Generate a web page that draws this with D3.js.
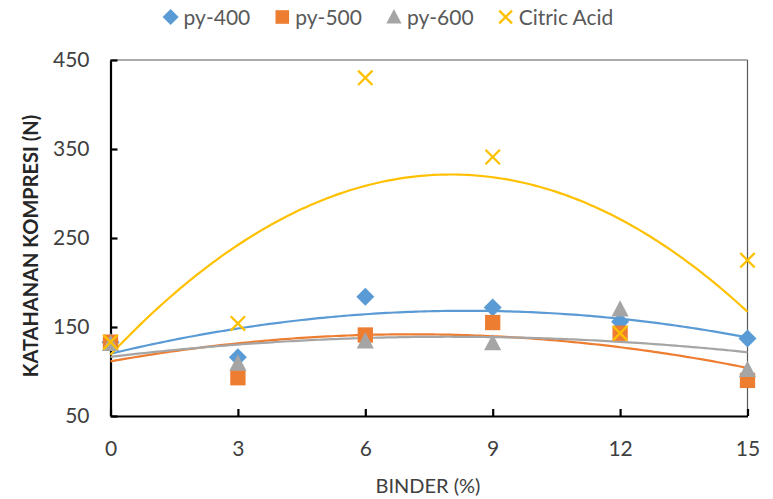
<!DOCTYPE html>
<html>
<head>
<meta charset="utf-8">
<script src="https://cdn.jsdelivr.net/npm/d3@7"></script>
<style>
  body { margin: 0; background: #fff; }
  svg text { font-family: Lato, "Open Sans", sans-serif; }
</style>
</head>
<body>
<div id="chart"></div>
<script>
// data
var binder = [0, 3, 6, 9, 12, 15];
var py400 = [133, 116, 184, 172, 156, 137];
var py500 = [133, 93, 141, 155, 143, 90];
var py600 = [131, 109, 134, 132, 170, 102];
var citric = [133, 154, 430, 341, 143, 225];
var seriesNames = ['py-400', 'py-500', 'py-600', 'Citric Acid'];
var xTicks = [0, 3, 6, 9, 12, 15];
var yTicks = [50, 150, 250, 350, 450];

var colors = ['#5B9BD5', '#ED7D31', '#A5A5A5', '#FFC000'];
var shapes = ['diamond', 'square', 'triangle', 'cross'];
var allSeries = [py400, py500, py600, citric];

var width = 773, height = 499;
var x = d3.scaleLinear().domain([0, 15]).range([110.5, 747.5]);
var y = d3.scaleLinear().domain([50, 450]).range([416, 60]);

var svg = d3.select('#chart').append('svg').attr('width', width).attr('height', height);

// frame
svg.append('line').attr('x1', x(0)).attr('x2', x(15)).attr('y1', y(450)).attr('y2', y(450))
  .attr('stroke', '#595959').attr('stroke-width', 1.2);
svg.append('line').attr('x1', x(15)).attr('x2', x(15)).attr('y1', y(450)).attr('y2', y(50))
  .attr('stroke', '#595959').attr('stroke-width', 1.2);

// axes (ticks point inward)
var xAxis = svg.append('g').attr('transform', 'translate(0,' + y(50) + ')')
  .call(d3.axisBottom(x).tickValues(xTicks).tickSizeInner(-7).tickSizeOuter(0).tickPadding(25));
var yAxis = svg.append('g').attr('transform', 'translate(' + x(0) + ',0)')
  .call(d3.axisLeft(y).tickValues(yTicks).tickSizeInner(-7).tickSizeOuter(0).tickPadding(21));
[xAxis, yAxis].forEach(function(a) {
  a.select('.domain').attr('stroke', '#000').attr('stroke-width', 2.2);
  a.selectAll('.tick line').attr('stroke', '#000').attr('stroke-width', 2.2);
  a.selectAll('.tick text').attr('fill', '#404040').style('font-size', '21px');
});

// axis titles
svg.append('text').attr('x', 428).attr('y', 493).attr('text-anchor', 'middle')
  .attr('fill', '#404040').style('font-size', '20px').text('BINDER (%)');
svg.append('text').attr('transform', 'translate(38,246) rotate(-90)').attr('text-anchor', 'middle')
  .attr('fill', '#262626').style('font-size', '20px').style('font-weight', 'bold')
  .text('KATAHANAN KOMPRESI (N)');

// 2nd order polynomial trendline (least squares, like Excel)
function polyFit(xs, ys) {
  var n = xs.length, s = [0, 0, 0, 0, 0], t = [0, 0, 0];
  for (var i = 0; i < n; i++) {
    var p = 1;
    for (var k = 0; k < 5; k++) { s[k] += p; if (k < 3) t[k] += p * ys[i]; p *= xs[i]; }
  }
  var A = [[s[0], s[1], s[2], t[0]], [s[1], s[2], s[3], t[1]], [s[2], s[3], s[4], t[2]]];
  for (var c = 0; c < 3; c++) {
    for (var r = c + 1; r < 3; r++) {
      var f = A[r][c] / A[c][c];
      for (var j = c; j < 4; j++) A[r][j] -= f * A[c][j];
    }
  }
  var b = [0, 0, 0];
  for (var r2 = 2; r2 >= 0; r2--) {
    var sum = A[r2][3];
    for (var j2 = r2 + 1; j2 < 3; j2++) sum -= A[r2][j2] * b[j2];
    b[r2] = sum / A[r2][r2];
  }
  return function(v) { return b[0] + b[1] * v + b[2] * v * v; };
}

var line = d3.line().x(function(d) { return x(d[0]); }).y(function(d) { return y(d[1]); });
var samples = d3.range(0, 15.001, 0.1);
allSeries.forEach(function(vals, i) {
  var f = polyFit(binder, vals);
  svg.append('path').datum(samples.map(function(v) { return [v, f(v)]; }))
    .attr('d', line).attr('fill', 'none').attr('stroke', colors[i]).attr('stroke-width', 2.2);
});

// markers
function marker(g, shape, color, s) {
  if (shape === 'diamond') {
    g.append('path').attr('d', 'M0,' + (-s) + 'L' + s + ',0L0,' + s + 'L' + (-s) + ',0Z').attr('fill', color);
  } else if (shape === 'square') {
    var h = s * 0.85;
    g.append('rect').attr('x', -h).attr('y', -h).attr('width', 2 * h).attr('height', 2 * h).attr('fill', color);
  } else if (shape === 'triangle') {
    g.append('path').attr('d', 'M0,' + (-s) + 'L' + (s * 0.95) + ',' + (s * 0.8) + 'L' + (-s * 0.95) + ',' + (s * 0.8) + 'Z')
      .attr('fill', color);
  } else {
    var c = s * 0.8;
    g.append('path').attr('d', 'M' + (-c) + ',' + (-c) + 'L' + c + ',' + c + 'M' + (-c) + ',' + c + 'L' + c + ',' + (-c))
      .attr('stroke', color).attr('stroke-width', 2.3).attr('fill', 'none');
  }
}
allSeries.forEach(function(vals, i) {
  svg.append('g').selectAll('g').data(vals).enter().append('g')
    .attr('transform', function(d, j) { return 'translate(' + x(binder[j]) + ',' + y(d) + ')'; })
    .each(function() { marker(d3.select(this), shapes[i], colors[i], 9); });
});

// legend
var legend = svg.append('g');
var cx = 0;
seriesNames.forEach(function(name, i) {
  var item = legend.append('g').attr('transform', 'translate(' + cx + ',0)');
  var m = item.append('g').attr('transform', 'translate(8,0)');
  marker(m, shapes[i], colors[i], 8);
  var t = item.append('text').attr('x', 21).attr('y', 7.5).attr('fill', '#595959')
    .style('font-size', '21px').text(name);
  cx += 21 + t.node().getComputedTextLength() + 24;
});
var lw = cx - 24;
legend.attr('transform', 'translate(' + (388 - lw / 2) + ',17)');
</script>
</body>
</html>
